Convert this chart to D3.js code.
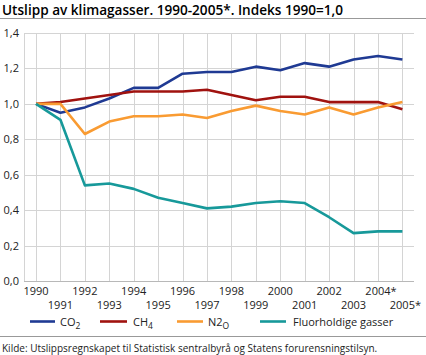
<!DOCTYPE html>
<html><head><meta charset="utf-8">
<script src="https://cdn.jsdelivr.net/npm/d3@7"></script>
<style>body{margin:0;background:#fff}svg{display:block}text{font-family:"Open Sans","Noto Sans",sans-serif;fill:#222}</style>
</head><body>
<svg id="c" width="426" height="355"></svg>
<script>
const years = ["1990","1991","1992","1993","1994","1995","1996","1997","1998","1999","2000","2001","2002","2003","2004*","2005*"];
const co2  = [1.00,0.95,0.98,1.03,1.09,1.09,1.17,1.18,1.18,1.21,1.19,1.23,1.21,1.25,1.27,1.25];
const ch4  = [1.00,1.01,1.03,1.05,1.07,1.07,1.07,1.08,1.05,1.02,1.04,1.04,1.01,1.01,1.01,0.97];
const n2o  = [1.00,1.00,0.83,0.90,0.93,0.93,0.94,0.92,0.96,0.99,0.96,0.94,0.98,0.94,0.98,1.01];
const fluor= [1.00,0.91,0.54,0.55,0.52,0.47,0.44,0.41,0.42,0.44,0.45,0.44,0.36,0.27,0.28,0.28];
const yTicks = [0,0.2,0.4,0.6,0.8,1.0,1.2,1.4];
const seriesNames = ["CO2","CH4","N2O","Fluorholdige gasser"];
const colors = ["#1f3a93","#a0120f","#f99b32","#17999a"];
const series = [co2,ch4,n2o,fluor];

const svg = d3.select("#c");
const x = d3.scalePoint().domain(years).range([36,402.4]);
const y = d3.scaleLinear().domain([0,1.4]).range([281,33]);
const fmt = d => d3.format(".1f")(d).replace(".",",");

// title
svg.append("text").attr("x",2).attr("y",14.5).attr("font-size",13.6).attr("font-weight",600).style("fill","#000")
  .text("Utslipp av klimagasser. 1990-2005*. Indeks 1990=1,0");
svg.append("line").attr("x1",0).attr("x2",426).attr("y1",18.5).attr("y2",18.5).attr("stroke","#999").attr("stroke-width",1);

// grid
const g = svg.append("g");
g.selectAll("line.h").data(yTicks).join("line")
  .attr("x1",24).attr("x2",414).attr("y1",d=>Math.round(y(d))+0.5).attr("y2",d=>Math.round(y(d))+0.5)
  .attr("stroke",d=>d===0?"#b8b8b8":"#d4d4d4").attr("stroke-width",1);
g.selectAll("line.v").data(years).join("line")
  .attr("x1",d=>Math.round(x(d))+0.5).attr("x2",d=>Math.round(x(d))+0.5).attr("y1",33).attr("y2",281)
  .attr("stroke","#d4d4d4");
g.append("line").attr("x1",24.5).attr("x2",24.5).attr("y1",33).attr("y2",281).attr("stroke","#d4d4d4");

// y labels
svg.selectAll("text.yl").data(yTicks).join("text").attr("class","yl")
  .attr("x",19).attr("y",d=>y(d)+4).attr("text-anchor","end").attr("font-size",11).text(fmt);

// x labels
svg.selectAll("text.xl").data(years).join("text").attr("class","xl")
  .attr("x",d=>x(d)+(d.endsWith("*")?3:0)).attr("y",(d,i)=>i%2===0?295:308.5)
  .attr("text-anchor","middle").attr("font-size",11).text(d=>d);

// lines
const line = d3.line().x((d,i)=>x(years[i])).y(d=>y(d));
svg.selectAll("path.s").data(series).join("path")
  .attr("d",line).attr("fill","none").attr("stroke",(d,i)=>colors[i]).attr("stroke-width",2.6)
  .attr("stroke-linejoin","round");

// legend
const leg = [{x1:30,x2:55,tx:60},{x1:100,x2:127,tx:133},{x1:177,x2:203,tx:208},{x1:260,x2:286,tx:293}];
leg.forEach((l,i)=>{
  svg.append("line").attr("x1",l.x1).attr("x2",l.x2).attr("y1",321.5).attr("y2",321.5)
    .attr("stroke",colors[i]).attr("stroke-width",2.6);
  const t = svg.append("text").attr("x",l.tx).attr("y",326).attr("font-size",11);
  const nm = seriesNames[i];
  if (i<3){
    t.append("tspan").text(nm.slice(0,-1));
    t.append("tspan").attr("dy",3).attr("font-size",8.5).text(nm.slice(-1));
  } else t.text(nm);
});

svg.append("line").attr("x1",0).attr("x2",426).attr("y1",336.5).attr("y2",336.5).attr("stroke","#999");
svg.append("text").attr("x",2).attr("y",352).attr("font-size",10)
  .text("Kilde: Utslippsregnskapet til Statistisk sentralbyrå og Statens forurensningstilsyn.");
</script>
</body></html>
